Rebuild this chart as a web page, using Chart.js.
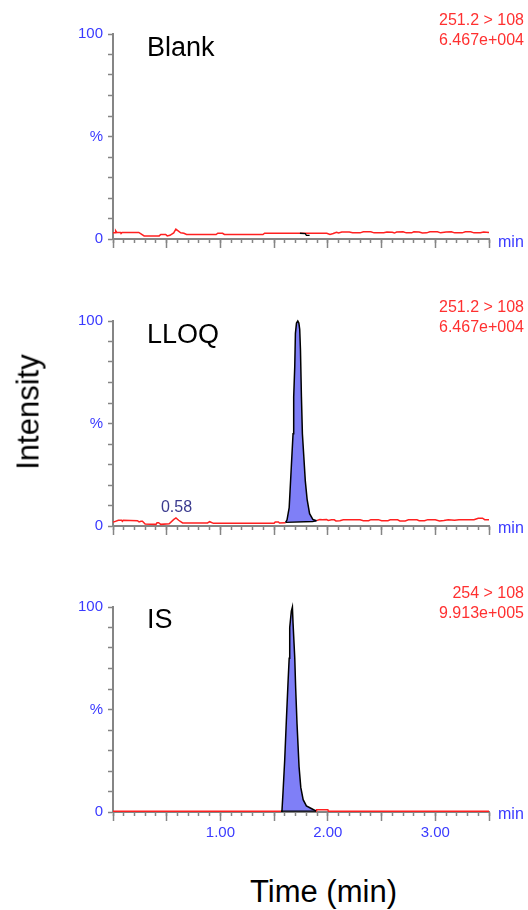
<!DOCTYPE html>
<html><head><meta charset="utf-8">
<script src="https://cdn.jsdelivr.net/npm/chart.js@4"></script>
<style>
html,body{margin:0;padding:0;background:#fff;}
body{width:528px;height:910px;position:relative;overflow:hidden;font-family:"Liberation Sans",Arial,sans-serif;}
canvas{position:absolute;left:0;}
.t{position:absolute;white-space:nowrap;line-height:1;}
.red{color:#ff3030;font-size:16px;right:4px;}
.lab{color:#000;font-size:27px;left:147px;}
.min{color:#3a3aff;font-size:16px;left:498px;}
</style></head><body>
<canvas id="c1"></canvas>
<canvas id="c2"></canvas>
<canvas id="c3"></canvas>

<div class="t lab" style="top:34px;">Blank</div>
<div class="t lab" style="top:321px;">LLOQ</div>
<div class="t lab" style="top:606px;">IS</div>

<div class="t red" style="top:11.5px;">251.2 &gt; 108</div>
<div class="t red" style="top:32px;">6.467e+004</div>
<div class="t red" style="top:298.5px;">251.2 &gt; 108</div>
<div class="t red" style="top:319px;">6.467e+004</div>
<div class="t red" style="top:584.5px;">254 &gt; 108</div>
<div class="t red" style="top:605px;">9.913e+005</div>

<div class="t min" style="top:234px;">min</div>
<div class="t min" style="top:520px;">min</div>
<div class="t min" style="top:806px;">min</div>

<div class="t" style="left:176.5px;top:499px;font-size:16px;color:#3b3b8f;transform:translateX(-50%);">0.58</div>

<div class="t" style="left:28px;top:412px;font-size:31px;color:#000;transform:translate(-50%,-50%) rotate(-90deg);">Intensity</div>
<div class="t" style="left:323.5px;top:875.5px;font-size:31px;color:#000;transform:translateX(-50%);">Time (min)</div>

<script>
// ---------- data ----------
const X_MIN = 0, X_MAX = 3.5;
const xMinorTicks = [0,0.1,0.2,0.3,0.4,0.5,0.6,0.7,0.8,0.9,1.0,1.1,1.2,1.3,1.4,1.5,1.6,1.7,1.8,1.9,2.0,2.1,2.2,2.3,2.4,2.5,2.6,2.7,2.8,2.9,3.0,3.1,3.2,3.3,3.4,3.5];
const xMajorTicks = [0,0.5,1.0,1.5,2.0,2.5,3.0,3.5];
const xLabelValues = [1.0, 2.0, 3.0];
const xLabelTexts = ['1.00', '2.00', '3.00'];
const yTicks = [0,10,20,30,40,50,60,70,80,90,100];
const yLabelValues = [0, 50, 100];
const yLabelTexts = ['0', '%', '100'];

// Blank trace
const blankT = [0.00,0.02,0.025,0.035,0.07,0.075,0.085,0.24,0.29,0.43,0.445,0.49,0.505,0.53,0.565,0.585,0.60,0.63,0.66,0.685,0.96,0.975,1.02,1.037,1.396,1.411,1.99,2.02,2.05,2.08,2.10,2.13,2.20,2.23,2.30,2.33,2.40,2.43,2.52,2.55,2.60,2.62,2.64,2.70,2.73,2.78,2.80,2.85,2.88,2.92,2.95,3.02,3.05,3.10,3.15,3.18,3.25,3.28,3.33,3.36,3.42,3.45,3.50];
const blankY = [3.0,3.0,4.0,3.2,3.2,2.7,3.2,3.2,1.5,1.5,2.2,2.2,1.5,1.8,3.0,4.8,4.2,3.0,2.8,2.2,2.2,2.8,2.8,2.2,2.2,2.8,2.8,2.2,2.7,3.3,2.9,3.4,3.4,3.0,3.0,3.5,3.5,3.0,3.0,3.4,3.3,2.9,3.4,3.5,3.0,3.0,3.5,3.4,2.9,3.0,3.5,3.5,3.0,3.4,3.5,3.0,3.0,3.5,3.5,3.0,3.0,3.4,3.2];
const blankBaseT = [1.74,1.79,1.80,1.83];
const blankBaseY = [2.8,2.6,1.8,1.8];

// LLOQ trace (null = hidden under the peak)
const lloqT = [0.00,0.01,0.05,0.08,0.087,0.095,0.227,0.243,0.26,0.274,0.299,0.40,0.41,0.424,0.445,0.523,0.564,0.586,0.611,0.648,0.88,0.90,0.935,1.40,1.50,1.51,1.54,1.55,1.607,1.75,1.894,1.925,1.95,1.988,2.003,2.034,2.06,2.075,2.112,2.143,2.30,2.33,2.38,2.40,2.47,2.50,2.56,2.58,2.65,2.67,2.72,2.75,2.83,2.85,2.90,2.93,3.00,3.04,3.08,3.12,3.18,3.22,3.30,3.36,3.40,3.44,3.46,3.50];
const lloqY = [1.9,2.0,2.8,2.8,2.3,2.8,2.6,2.0,2.3,2.3,1.0,0.8,1.6,1.6,0.8,1.1,3.1,3.9,2.8,1.5,1.5,2.1,1.3,1.4,1.4,2.0,2.0,1.5,1.6,null,2.6,3.2,3.0,3.2,2.7,3.0,3.0,2.5,2.6,3.0,3.0,2.6,2.6,3.1,3.1,2.6,2.6,3.0,3.0,2.5,2.5,3.0,3.0,2.6,2.6,3.1,3.0,2.5,2.7,3.0,2.8,3.1,3.0,3.1,3.8,3.8,3.1,3.1];
const lloqPeakT = [1.607,1.62,1.64,1.66,1.676,1.682,1.692,1.698,1.708,1.72,1.73,1.738,1.745,1.754,1.763,1.776,1.79,1.807,1.83,1.86,1.894];
const lloqPeakY = [1.8,3,9,29,45,63,78,94,99,100,99,96,86,63,45,34,22,13,6,3.2,2.6];
const lloqBaseT = [1.607,1.86,1.894];
const lloqBaseY = [1.8,2.2,2.6];
const lloqFillLevel = 1.9;

// IS trace
const isT = [0.00,1.565,1.70,1.89,1.895,2.00,2.005,3.50];
const isY = [0.4,0.4,null,0.5,1.1,1.1,0.4,0.4];
const isPeakT = [1.565,1.573,1.582,1.598,1.614,1.63,1.64,1.645,1.66,1.67,1.676,1.692,1.70,1.713,1.732,1.748,1.77,1.80,1.85,1.88,1.89];
const isPeakY = [0.4,0.8,9,25,45,64,75,90,98,100,92,75,61,43,22,12,6,3,1.6,0.8,0.5];
const isBaseT = [1.565,1.89];
const isBaseY = [0.4,0.4];
const isFillLevel = 0.4;

// ---------- styling / layout ----------
const GREY = '#858585';
const BLUE = '#3a3aff';
const RED = '#ff2020';
const PEAK_FILL = '#7f7ff7';
const FONT = '"Liberation Sans", Arial, sans-serif';
const PAD_TOP = 14;
const PLOT_H = 205;
const PLOT_LEFT = 113;
const PLOT_RIGHT = 489;

const pts = (t, y) => t.map((v, i) => ({x: v, y: y[i]}));

function redLine(t, y) {
  return {data: pts(t, y), borderColor: RED, borderWidth: 1.5, fill: false, pointRadius: 0, clip: false, spanGaps: false};
}
function blackLine(t, y) {
  return {data: pts(t, y), borderColor: '#000', borderWidth: 1.3, fill: false, pointRadius: 0, clip: false};
}
function peak(t, y, level) {
  return {data: pts(t, y), borderColor: '#000', borderWidth: 1.5, backgroundColor: PEAK_FILL, fill: {value: level}, pointRadius: 0, clip: false};
}

function makeChart(id, plotTop, datasets, showLabels) {
  const H = showLabels ? 40 : 16;
  const cv = document.getElementById(id);
  cv.width = 528;
  cv.height = PAD_TOP + PLOT_H + H;
  cv.style.top = (plotTop - PAD_TOP) + 'px';
  new Chart(cv, {
    type: 'line',
    data: {datasets},
    options: {
      responsive: false, animation: false, devicePixelRatio: 1,
      layout: {padding: {top: PAD_TOP, left: 0, right: 528 - PLOT_RIGHT, bottom: 0}},
      plugins: {legend: {display: false}, tooltip: {enabled: false}},
      elements: {point: {radius: 0}, line: {tension: 0}},
      scales: {
        x: {
          type: 'linear', min: X_MIN, max: X_MAX, position: 'bottom',
          afterBuildTicks: s => { s.ticks = xMinorTicks.map(v => ({value: v})); },
          afterFit: s => { s.height = H; },
          ticks: {display: false, autoSkip: false},
          grid: {drawOnChartArea: false, drawTicks: true, tickLength: 4, tickColor: GREY, tickWidth: 1.5},
          border: {display: true, color: GREY, width: 2}
        },
        x2: {
          type: 'linear', axis: 'x', min: X_MIN, max: X_MAX, position: {y: 0},
          afterBuildTicks: s => { s.ticks = xMajorTicks.map(v => ({value: v})); },
          ticks: {
            display: showLabels, autoSkip: false, maxRotation: 0, padding: 3,
            color: BLUE, font: {family: FONT, size: 15},
            callback: v => { const i = xLabelValues.findIndex(a => Math.abs(a - v) < 1e-6); return i >= 0 ? xLabelTexts[i] : ''; }
          },
          grid: {drawOnChartArea: false, drawTicks: true, tickLength: 9, tickColor: GREY, tickWidth: 1.5},
          border: {display: false}
        },
        y: {
          min: 0, max: 100,
          afterBuildTicks: s => { s.ticks = yTicks.map(v => ({value: v})); },
          afterFit: s => { s.width = PLOT_LEFT; },
          ticks: {
            autoSkip: false, padding: 5, color: BLUE, font: {family: FONT, size: 15},
            callback: v => { const i = yLabelValues.indexOf(v); return i >= 0 ? yLabelTexts[i] : ''; }
          },
          grid: {drawOnChartArea: false, drawTicks: true, tickLength: 5, tickColor: GREY, tickWidth: 1.5},
          border: {color: GREY, width: 2}
        }
      }
    }
  });
}

makeChart('c1', 34, [blackLine(blankBaseT, blankBaseY), redLine(blankT, blankY)], false);
makeChart('c2', 321, [blackLine(lloqBaseT, lloqBaseY), peak(lloqPeakT, lloqPeakY, lloqFillLevel), redLine(lloqT, lloqY)], false);
makeChart('c3', 607, [blackLine(isBaseT, isBaseY), peak(isPeakT, isPeakY, isFillLevel), redLine(isT, isY)], true);
</script>
</body></html>
